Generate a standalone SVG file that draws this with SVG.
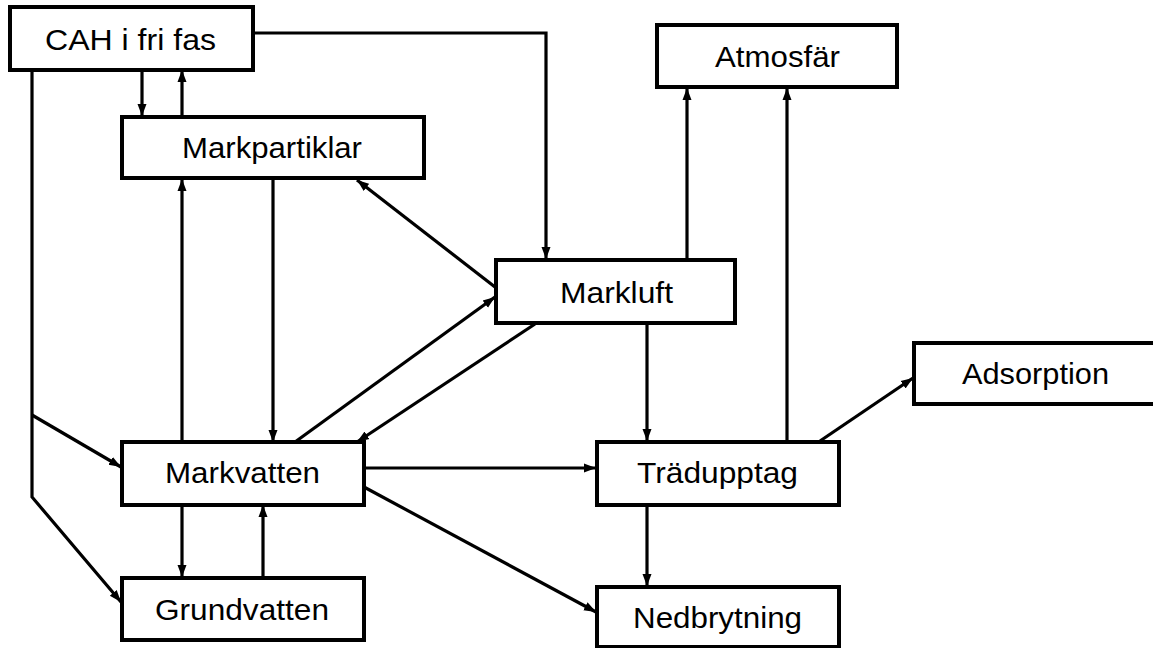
<svg xmlns="http://www.w3.org/2000/svg" width="1153" height="648" viewBox="0 0 1153 648">
<style>
.box{fill:#fff;stroke:#000;stroke-width:4}
.lbl{font-family:"Liberation Sans",Arial,sans-serif;font-size:29px;fill:#000}
.c{fill:none;stroke:#000;stroke-width:3.2;marker-end:url(#ah)}
</style>
<defs>
<marker id="ah" markerUnits="userSpaceOnUse" markerWidth="13" markerHeight="11" refX="12" refY="5.5" orient="auto">
<path d="M0,1 L12,5.5 L0,10 z" fill="#000"/>
</marker>
</defs>
<rect width="1153" height="648" fill="#fff"/>
<g id="connectors">
<path class="c" d="M142,70 V116"/>
<path class="c" d="M182,116 V70"/>
<path class="c" d="M253,33 H546 V259"/>
<path class="c" d="M32,70 V497 L121,602"/>
<path class="c" d="M32,415 L121,467"/>
<path class="c" d="M182,442 V179"/>
<path class="c" d="M273,179 V442"/>
<path class="c" d="M495,287 L357,180"/>
<path class="c" d="M295,442 L495,297"/>
<path class="c" d="M535,324 L357,442"/>
<path class="c" d="M687,259 V88"/>
<path class="c" d="M787,441 V88"/>
<path class="c" d="M647,324 V441"/>
<path class="c" d="M820,441 L913,378"/>
<path class="c" d="M364,468 H596"/>
<path class="c" d="M364,487 L596,612"/>
<path class="c" d="M647,505 V586"/>
<path class="c" d="M182,505 V577"/>
<path class="c" d="M263,577 V505"/>
</g>
<g id="cah"><rect class="box" x="10" y="7" width="243" height="63"/><text class="lbl" x="45" y="50" textLength="171" lengthAdjust="spacingAndGlyphs">CAH i fri fas</text></g>
<g id="markpartiklar"><rect class="box" x="122" y="117" width="302" height="61"/><text class="lbl" x="182" y="158" textLength="180" lengthAdjust="spacingAndGlyphs">Markpartiklar</text></g>
<g id="atmosfar"><rect class="box" x="657" y="25" width="240" height="62"/><text class="lbl" x="715" y="67" textLength="125" lengthAdjust="spacingAndGlyphs">Atmosfär</text></g>
<g id="markluft"><rect class="box" x="496" y="260" width="239" height="63"/><text class="lbl" x="560" y="303" textLength="113" lengthAdjust="spacingAndGlyphs">Markluft</text></g>
<g id="adsorption"><rect class="box" x="914" y="343" width="260" height="61"/><text class="lbl" x="962" y="384" textLength="147" lengthAdjust="spacingAndGlyphs">Adsorption</text></g>
<g id="markvatten"><rect class="box" x="122" y="442" width="242" height="63"/><text class="lbl" x="165" y="483" textLength="155" lengthAdjust="spacingAndGlyphs">Markvatten</text></g>
<g id="tradupptag"><rect class="box" x="597" y="442" width="242" height="63"/><text class="lbl" x="637" y="483" textLength="161" lengthAdjust="spacingAndGlyphs">Trädupptag</text></g>
<g id="grundvatten"><rect class="box" x="122" y="578" width="242" height="62"/><text class="lbl" x="155" y="620" textLength="174" lengthAdjust="spacingAndGlyphs">Grundvatten</text></g>
<g id="nedbrytning"><rect class="box" x="597" y="587" width="242" height="60"/><text class="lbl" x="633" y="628" textLength="169" lengthAdjust="spacingAndGlyphs">Nedbrytning</text></g>
</svg>
